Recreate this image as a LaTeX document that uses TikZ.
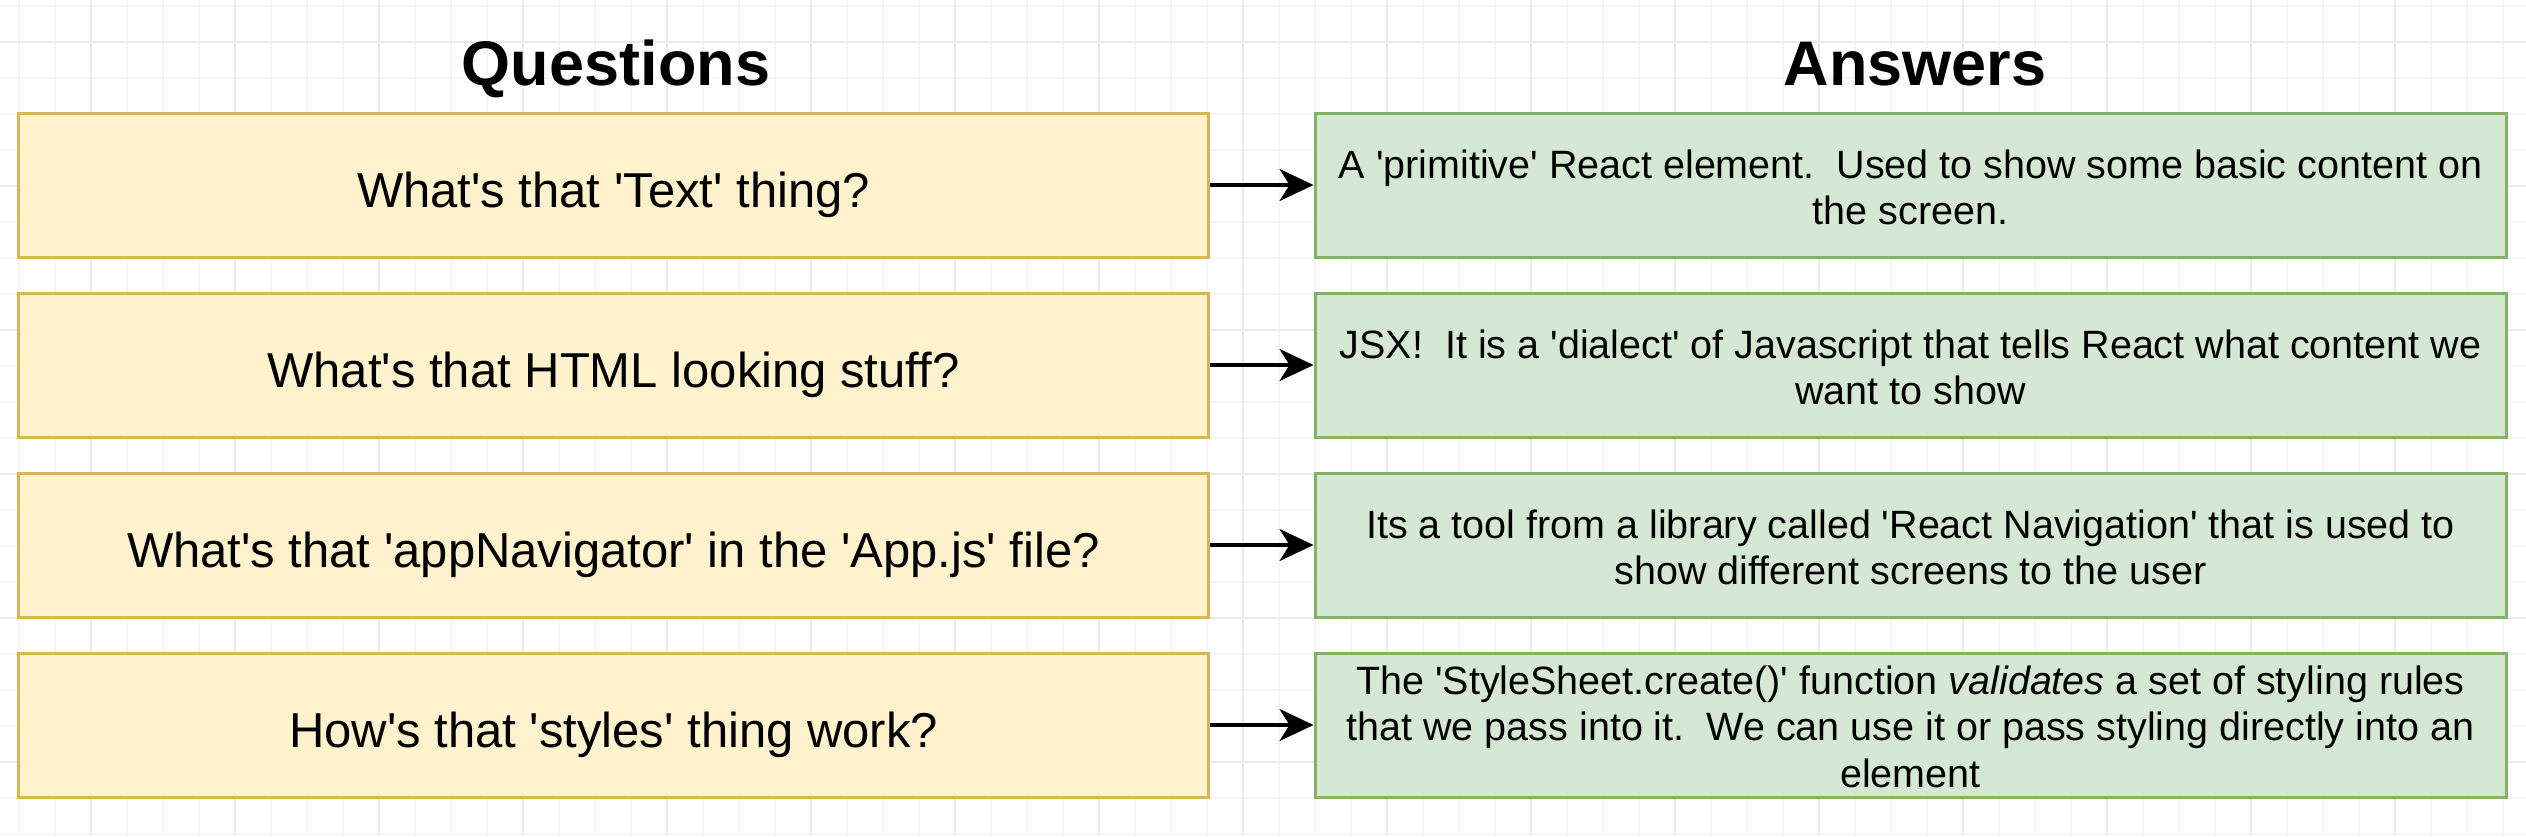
\documentclass[tikz,border=0pt]{standalone}
\usepackage{fontspec}
\setmainfont{Liberation Sans}[Ligatures=TeXOff]
\usetikzlibrary{arrows.meta}
\definecolor{qfill}{HTML}{FFF2CC}
\definecolor{qline}{HTML}{D6B656}
\definecolor{afill}{HTML}{D5E8D4}
\definecolor{aline}{HTML}{82B366}
\definecolor{gridminor}{HTML}{F6F6F6}
\definecolor{gridmajor}{HTML}{EBEBEB}
\frenchspacing
\begin{document}
\begin{tikzpicture}[x=1pt,y=-1pt,
  qbox/.style={draw=qline,fill=qfill,line width=3pt,minimum width=1190pt,minimum height=144pt,inner sep=0pt},
  abox/.style={draw=aline,fill=afill,line width=3pt,minimum width=1191pt,minimum height=144pt,inner sep=0pt},
  qtext/.style={anchor=base,inner sep=0pt,font=\fontsize{49}{58}\selectfont},
  atext/.style={align=center,inner sep=0pt,font=\fontsize{39.5}{46.5}\selectfont},
  title/.style={anchor=base,inner sep=0pt,font=\fontsize{63}{75}\selectfont\bfseries},
  conn/.style={line width=3.5pt,-{Stealth[length=34pt,width=32pt,inset=10pt]}}
]
\useasboundingbox (0,0) rectangle (2526,836);
\fill[white] (0,0) rectangle (2526,836);
% grid
\foreach \x in {19,55,...,2526} \draw[gridminor,line width=1.5pt] (\x,0) -- (\x,836);
\foreach \y in {6,42,...,836} \draw[gridminor,line width=1.5pt] (0,\y) -- (2526,\y);
\foreach \x in {91,235,...,2526} \draw[gridmajor,line width=1.8pt] (\x,0) -- (\x,836);
\foreach \y in {42,186,...,836} \draw[gridmajor,line width=1.8pt] (0,\y) -- (2526,\y);

% titles
\node[title] (tq) at (616,85) {Questions};
\node[title] (ta) at (1915,85) {Answers};

% boxes
\node[qbox] (q1) at (613.5,185) {};
\node[qbox] (q2) at (613.5,365) {};
\node[qbox] (q3) at (613.5,545) {};
\node[qbox] (q4) at (613.5,725) {};
\node[abox] (a1) at (1910.5,185) {};
\node[abox] (a2) at (1910.5,365) {};
\node[abox] (a3) at (1910.5,545) {};
\node[abox] (a4) at (1910.5,725) {};

% question texts
\node[qtext] (qt1) at (613.5,207) {What's that 'Text' thing?};
\node[qtext] (qt2) at (613.5,387) {What's that HTML looking stuff?};
\node[qtext] (qt3) at (613.5,567) {What's that 'appNavigator' in the 'App.js' file?};
\node[qtext] (qt4) at (613.5,747) {How's that 'styles' thing work?};

% answer texts
\node[atext] (at1) at (1910.5,192) {\strut A 'primitive' React element.~ Used to show some basic content on\\\strut the screen.};
\node[atext] (at2) at (1910.5,372) {\strut JSX!~ It is a 'dialect' of Javascript that tells React what content we\\\strut want to show};
\node[atext] (at3) at (1910.5,552) {\strut Its a tool from a library called 'React Navigation' that is used to\\\strut show different screens to the user};
\node[atext] (at4) at (1910.5,731.5) {\strut The 'StyleSheet.create()' function \textit{validates} a set of styling rules\\\strut that we pass into it.~ We can use it or pass styling directly into an\\\strut element};

% connectors
\draw[conn] (q1.east) -- (a1.west);
\draw[conn] (q2.east) -- (a2.west);
\draw[conn] (q3.east) -- (a3.west);
\draw[conn] (q4.east) -- (a4.west);
\end{tikzpicture}
\end{document}
